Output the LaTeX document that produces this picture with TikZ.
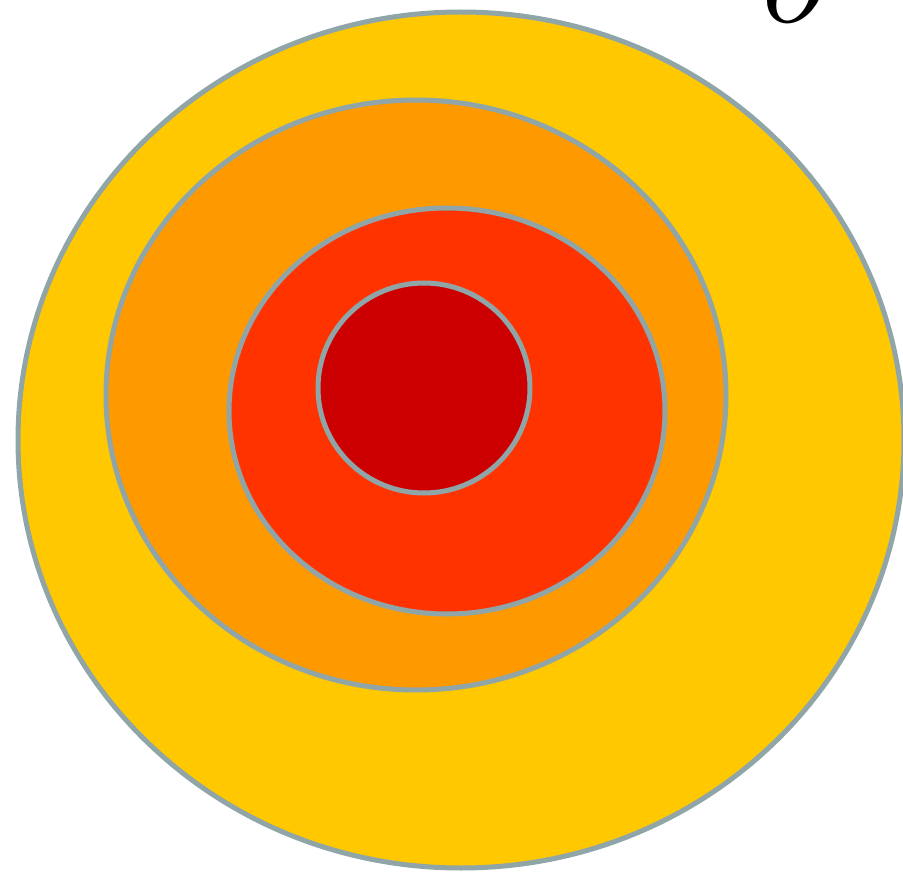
\documentclass[tikz,border=0pt]{standalone}
\usepackage{xcolor}
\usepackage{tikz}

\definecolor{ringedge}{HTML}{8FA5A8}
\definecolor{ringone}{HTML}{FFC800}
\definecolor{ringtwo}{HTML}{FF9900}
\definecolor{ringthree}{HTML}{FF3300}
\definecolor{ringfour}{HTML}{CC0000}

\begin{document}
\begin{tikzpicture}[
  x=1pt, y=-1pt,
  ring/.style={draw=ringedge, line width=5pt}
]
\useasboundingbox (0,0) rectangle (903,872);
\begin{scope}
\clip (0,0) rectangle (903,872);
\filldraw[ring, fill=ringone] (461,440) ellipse [x radius=443, y radius=428];
\filldraw[ring, fill=ringtwo] (416,395) ellipse [x radius=310, y radius=295];
\filldraw[ring, fill=ringthree] (447,411) ellipse [x radius=218, y radius=203];
\filldraw[ring, fill=ringfour] (424,388) ellipse [x radius=106, y radius=105];
\node[anchor=base, inner sep=0pt, font=\fontsize{145}{145}\selectfont\itshape] (letter) at (788,23) {o};
\end{scope}
\end{tikzpicture}
\end{document}
